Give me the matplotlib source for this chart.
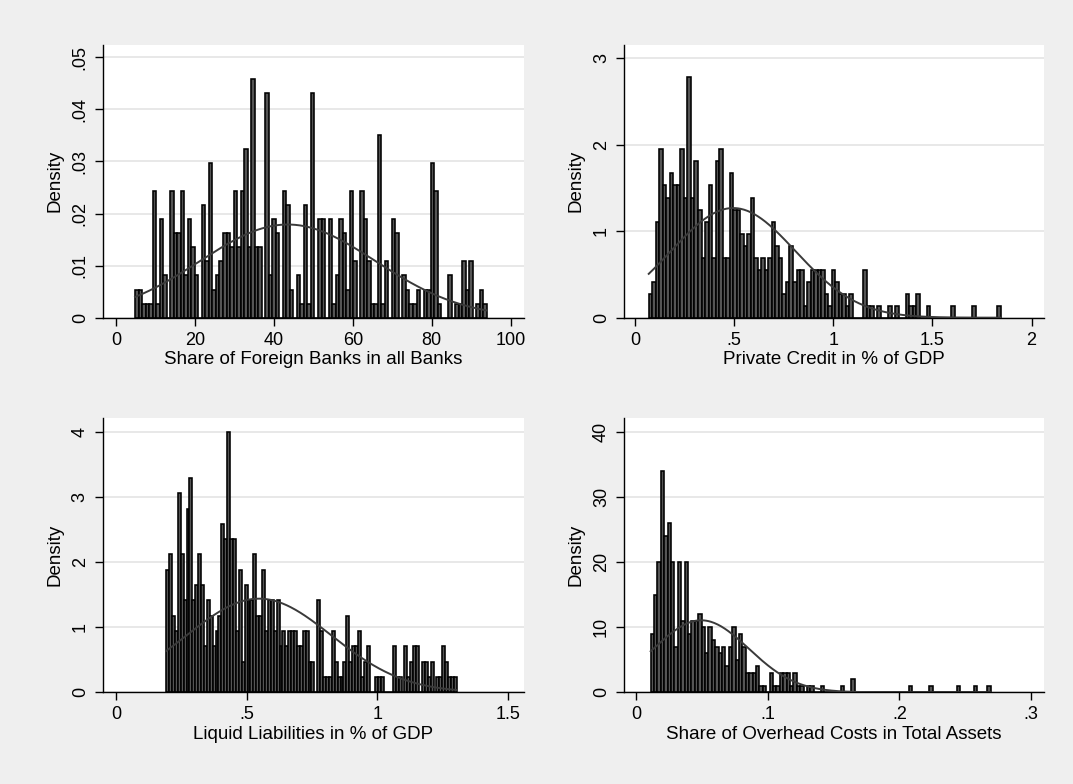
import numpy as np
import matplotlib
matplotlib.use('Agg')
import matplotlib.pyplot as plt

plt.rcParams['font.family'] = ['Liberation Sans', 'DejaVu Sans']

foreign_counts = [2, 2, 1, 1, 1, 9, 1, 7, 3, 0,
                  9, 6, 6, 9, 3, 7, 5, 3, 0, 8,
                  4, 11, 2, 3, 4, 6, 6, 5, 9, 5,
                  9, 12, 5, 17, 5, 5, 0, 16, 3, 7,
                  6, 0, 9, 8, 2, 0, 3, 1, 8, 1,
                  16, 0, 7, 7, 0, 7, 1, 3, 7, 6,
                  2, 9, 4, 0, 9, 7, 4, 1, 1, 13,
                  1, 4, 0, 7, 6, 0, 3, 2, 1, 1,
                  2, 0, 2, 2, 11, 9, 1, 0, 0, 3,
                  0, 1, 1, 4, 2, 4, 0, 1, 2, 1]
credit_counts = [2, 3, 8, 14, 11, 10, 12, 11, 11, 14,
                 10, 20, 10, 13, 9, 5, 8, 11, 5, 13,
                 14, 5, 5, 12, 9, 9, 7, 6, 7, 10,
                 5, 4, 5, 4, 5, 8, 6, 5, 2, 3,
                 6, 3, 4, 4, 1, 3, 4, 4, 4, 4,
                 2, 1, 4, 3, 2, 2, 1, 2, 0, 0,
                 0, 4, 1, 1, 0, 1, 0, 0, 1, 0,
                 1, 0, 0, 2, 1, 1, 2, 0, 0, 1,
                 0, 0, 0, 0, 0, 0, 1, 0, 0, 0,
                 0, 0, 1, 0, 0, 0, 0, 0, 0, 1]
liquid_counts = [8, 9, 5, 4, 13, 9, 6, 12, 14, 6,
                 7, 9, 7, 3, 6, 5, 3, 4, 5, 11,
                 10, 17, 10, 10, 4, 8, 2, 7, 6, 6,
                 9, 5, 5, 8, 4, 6, 6, 4, 6, 3,
                 4, 3, 4, 4, 4, 3, 3, 4, 4, 2,
                 2, 0, 6, 4, 1, 1, 1, 4, 2, 1,
                 1, 2, 5, 2, 3, 3, 4, 1, 2, 3,
                 0, 0, 1, 1, 1, 0, 0, 0, 3, 1,
                 1, 0, 3, 1, 2, 3, 3, 0, 2, 2,
                 1, 2, 0, 1, 1, 3, 2, 1, 1, 1]
overhead_counts = [9, 15, 20, 34, 24, 26, 20, 7, 20, 11,
                   20, 9, 11, 11, 12, 10, 6, 10, 8, 7,
                   6, 7, 4, 7, 10, 5, 9, 7, 3, 3,
                   3, 4, 1, 1, 0, 3, 1, 1, 3, 3,
                   3, 1, 3, 1, 1, 0, 1, 1, 0, 0,
                   1, 0, 0, 0, 0, 0, 1, 0, 0, 2,
                   0, 0, 0, 0, 0, 0, 0, 0, 0, 0,
                   0, 0, 0, 0, 0, 0, 1, 0, 0, 0,
                   0, 0, 1, 0, 0, 0, 0, 0, 0, 0,
                   1, 0, 0, 0, 0, 1, 0, 0, 0, 1]

# data range, density of one observation, normal mean / sd
foreign_range = (4.8, 94.0)
credit_range = (0.069, 1.844)
liquid_range = (0.192, 1.304)
overhead_range = (0.0112, 0.2693)
obs_density = [0.0027, 0.139, 0.235, 1.0]
normal_mu = [43.5, 0.495, 0.547, 0.0495]
normal_sd = [22.3, 0.3146, 0.2776, 0.0361]

titles = ['Share of Foreign Banks in all Banks', 'Private Credit in % of GDP',
          'Liquid Liabilities in % of GDP', 'Share of Overhead Costs in Total Assets']
xticks = [[0, 20, 40, 60, 80, 100], [0, .5, 1, 1.5, 2], [0, .5, 1, 1.5], [0, .1, .2, .3]]
yticks = [[0, .01, .02, .03, .04, .05], [0, 1, 2, 3], [0, 1, 2, 3, 4], [0, 10, 20, 30, 40]]
xlims = [(-3.4, 103.4), (-0.056, 2.063), (-0.051, 1.561), (-0.0091, 0.3098)]
ylims = [(0, 0.05236), (0, 3.154), (0, 4.21), (0, 42.1)]


def stata_lab(v):
    s = ('%g' % v)
    if s.startswith('0.'):
        s = s[1:]
    return s


fig = plt.figure(figsize=(10.73, 7.84), dpi=100)
fig.patch.set_facecolor('#efefef')

boxes = [[0.0957, 0.5948, 0.3926, 0.3478], [0.5815, 0.5948, 0.3915, 0.3478],
         [0.0957, 0.1170, 0.3926, 0.3498], [0.5815, 0.1170, 0.3915, 0.3498]]
all_counts = [foreign_counts, credit_counts, liquid_counts, overhead_counts]
ranges = [foreign_range, credit_range, liquid_range, overhead_range]

for i in range(4):
    ax = fig.add_axes(boxes[i])
    ax.set_facecolor('white')
    c = np.array(all_counts[i], dtype=float)
    edges = np.linspace(ranges[i][0], ranges[i][1], len(c) + 1)
    w = edges[1] - edges[0]
    ax.bar(edges[:-1], c * obs_density[i], width=w, align='edge',
           color='#555555', edgecolor='black', linewidth=1.15, zorder=2)
    xs = np.linspace(ranges[i][0], ranges[i][1], 300)
    ys = np.exp(-0.5 * ((xs - normal_mu[i]) / normal_sd[i]) ** 2) / (normal_sd[i] * np.sqrt(2 * np.pi))
    ax.plot(xs, ys, color='#3a3a3a', linewidth=1.4, zorder=3)

    ax.set_xlim(*xlims[i])
    ax.set_ylim(*ylims[i])
    ax.set_xticks(xticks[i])
    ax.set_xticklabels([stata_lab(v) for v in xticks[i]])
    ax.set_yticks(yticks[i])
    ax.set_yticklabels([stata_lab(v) for v in yticks[i]], rotation=90, va='center')
    ax.grid(axis='y', color='#e4e4e4', linewidth=1.2, zorder=0)
    ax.set_axisbelow(True)
    for s in ['top', 'right']:
        ax.spines[s].set_visible(False)
    for s in ['left', 'bottom']:
        ax.spines[s].set_linewidth(1.0)
        ax.spines[s].set_color('black')
    ax.tick_params(direction='out', length=6, width=1.0, labelsize=13, pad=4, color='black')
    ax.set_xlabel(titles[i], fontsize=13.5, labelpad=2)
    ax.set_ylabel('Density', fontsize=13.5, labelpad=6)

fig.savefig('out.png', dpi=100, facecolor=fig.get_facecolor())
